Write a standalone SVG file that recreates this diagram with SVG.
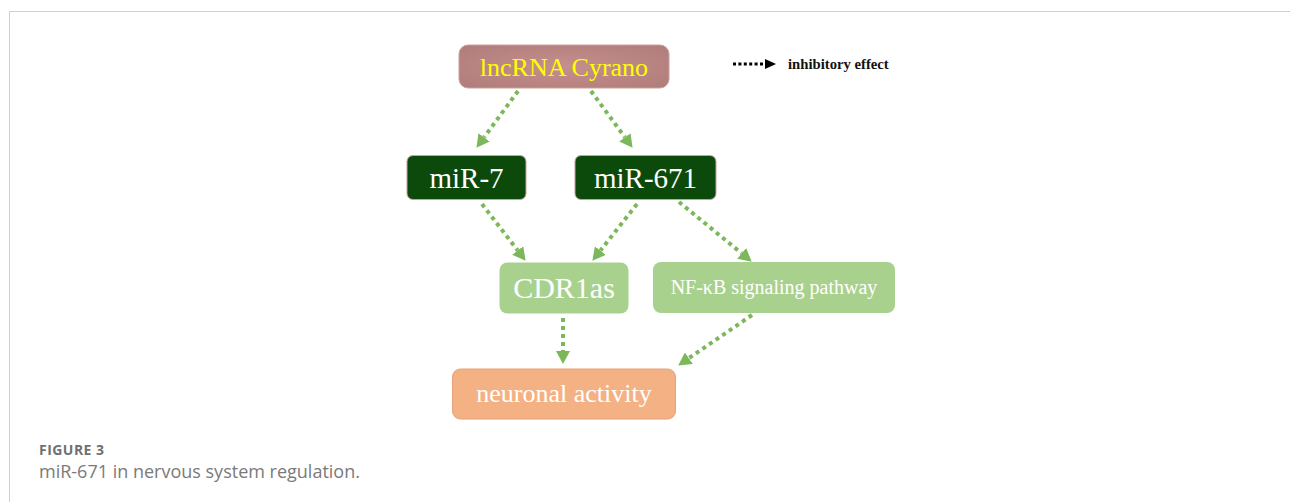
<svg xmlns="http://www.w3.org/2000/svg" width="1290" height="502" viewBox="0 0 1290 502">
<style>
.lbl{font-family:"Liberation Serif","Times New Roman",serif;fill:#ffffff;text-anchor:middle}
.conn{stroke:#7cb85a;stroke-width:4;stroke-dasharray:4 4;fill:none;marker-end:url(#ah)}
</style>
<defs>
<marker id="ah" markerUnits="userSpaceOnUse" markerWidth="14" markerHeight="14" refX="0" refY="7" orient="auto">
<path d="M0,0 L13,7 L0,14 z" fill="#7cb85a"/>
</marker>
<radialGradient id="cy" cx="0.5" cy="0.5" r="0.7">
<stop offset="0" stop-color="#c48f8d"/>
<stop offset="1" stop-color="#b07c7a"/>
</radialGradient>
</defs>
<rect x="0" y="0" width="1290" height="502" fill="#ffffff"/>
<path d="M9.5,502 V11.5 H1290" fill="none" stroke="#cfcfcf" stroke-width="1"/>

<g id="connectors">
<line class="conn" x1="518" y1="91" x2="484.1" y2="137.3"/>
<line class="conn" x1="591" y1="91" x2="624.9" y2="137.3"/>
<line class="conn" x1="482" y1="204" x2="517.7" y2="250.5"/>
<line class="conn" x1="637" y1="204" x2="600.4" y2="250.6"/>
<line class="conn" x1="679" y1="202" x2="741.7" y2="253.4"/>
<line class="conn" x1="563" y1="318" x2="563" y2="351"/>
<line class="conn" x1="752" y1="315" x2="688.9" y2="358.2"/>
</g>

<g id="cyrano">
<rect x="459" y="45" width="210" height="43" rx="9" fill="url(#cy)" stroke="#c9a09c" stroke-width="1"/>
<text class="lbl" x="564" y="76" font-size="26" style="fill:#ffff00">lncRNA Cyrano</text>
</g>
<g id="mir7">
<rect x="407" y="155.5" width="119" height="44" rx="6" fill="#0c4a0c" stroke="#c9a09c" stroke-width="1"/>
<text class="lbl" x="466.5" y="188" font-size="29">miR-7</text>
</g>
<g id="mir671">
<rect x="575" y="155.5" width="141" height="44" rx="6" fill="#0c4a0c" stroke="#c9a09c" stroke-width="1"/>
<text class="lbl" x="645.5" y="188" font-size="29">miR-671</text>
</g>
<g id="cdr1as">
<rect x="499.5" y="262.5" width="129" height="51" rx="8" fill="#a9d18e"/>
<text class="lbl" x="564" y="298" font-size="30">CDR1as</text>
</g>
<g id="nfkb">
<rect x="653" y="262" width="242" height="51" rx="8" fill="#a9d18e"/>
<text class="lbl" x="774" y="294" font-size="20">NF-κB signaling pathway</text>
</g>
<g id="neuronal">
<rect x="452.5" y="369" width="223" height="50" rx="8" fill="#f4b183" stroke="#e3a07a" stroke-width="1"/>
<text class="lbl" x="564" y="402" font-size="26">neuronal activity</text>
</g>

<g id="legend">
<line x1="733" y1="64" x2="765" y2="64" stroke="#000" stroke-width="3" stroke-dasharray="3 2.4"/>
<path d="M765,59 L776,64 L765,69 z" fill="#000"/>
<text x="788" y="69" font-family="Liberation Serif, serif" font-weight="bold" font-size="14.7" fill="#111">inhibitory effect</text>
</g>

<g id="caption">
<text x="39" y="455" font-family="Open Sans, sans-serif" font-weight="bold" font-size="14" fill="#707070" textLength="65" lengthAdjust="spacing">FIGURE 3</text>
<text x="39" y="478" font-family="Open Sans, sans-serif" font-size="18" fill="#7a7a7a">miR-671 in nervous system regulation.</text>
</g>
</svg>
